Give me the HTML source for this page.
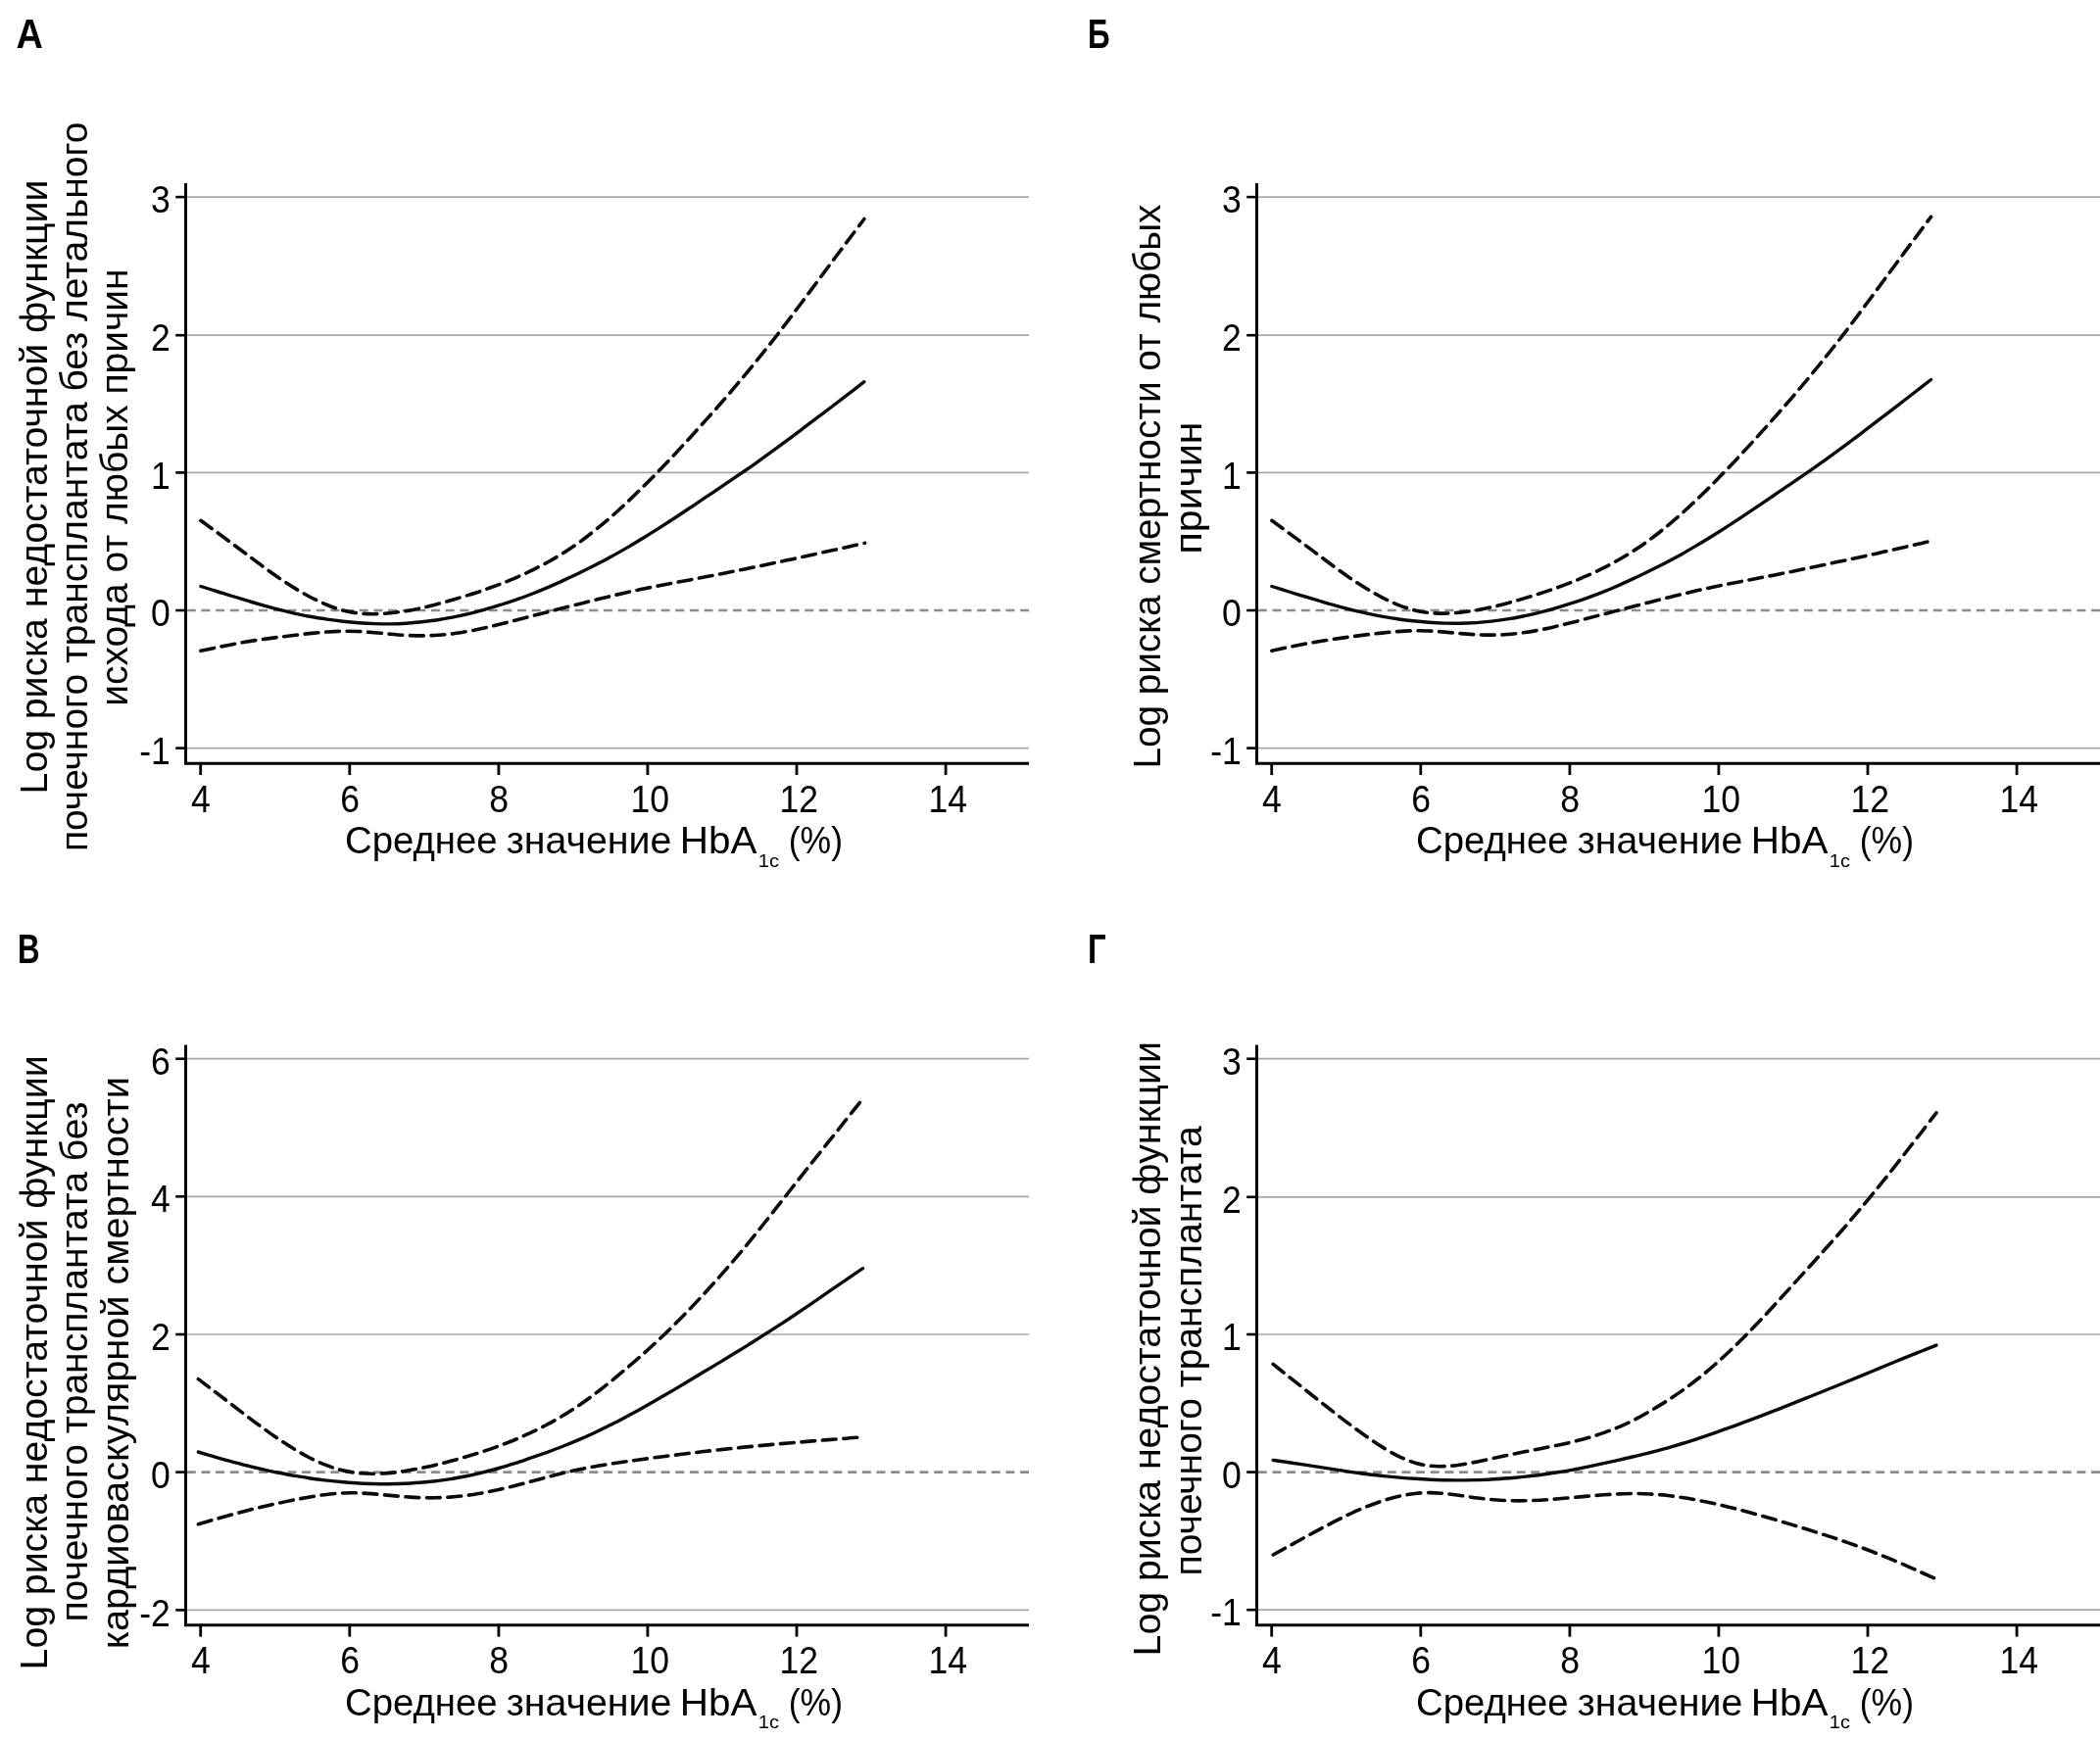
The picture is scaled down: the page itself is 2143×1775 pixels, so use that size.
<!DOCTYPE html>
<html lang="ru"><head><meta charset="utf-8"><title>HbA1c</title>
<style>html,body{margin:0;padding:0;background:#fff}body{width:2143px;height:1775px;overflow:hidden}svg{display:block;will-change:transform}text{font-family:'Liberation Sans', sans-serif;fill:#000}</style>
</head><body>
<svg width="2143" height="1775" viewBox="0 0 2143 1775">
<rect width="2143" height="1775" fill="#fff"/>
<g transform="translate(0 0)">
<line x1="191" y1="201.1" x2="1050" y2="201.1" stroke="#a8a8a8" stroke-width="1.7"/>
<line x1="191" y1="342.2" x2="1050" y2="342.2" stroke="#a8a8a8" stroke-width="1.7"/>
<line x1="191" y1="482.4" x2="1050" y2="482.4" stroke="#a8a8a8" stroke-width="1.7"/>
<line x1="190.8" y1="623" x2="1050" y2="623" stroke="#8c8c8c" stroke-width="2.7" stroke-dasharray="9 5.66"/>
<line x1="191" y1="763.6" x2="1050" y2="763.6" stroke="#a8a8a8" stroke-width="1.7"/>
<path d="M204.9 598.5C207.6 599.4 215.6 601.9 221 603.5C226.4 605.2 231.8 606.8 237.1 608.5C242.5 610.1 247.9 611.8 253.3 613.4C258.6 615 264 616.6 269.4 618.1C274.7 619.6 280.1 621.1 285.5 622.4C290.9 623.8 296.2 625.1 301.6 626.3C307 627.4 312.4 628.5 317.7 629.5C323.1 630.5 328.5 631.3 333.9 632.1C339.2 632.9 344.6 633.6 350 634.2C355.3 634.8 360.7 635.3 366.1 635.7C371.5 636.1 376.8 636.4 382.2 636.6C387.6 636.8 393 636.9 398.3 636.9C403.7 636.8 409.1 636.6 414.4 636.2C419.8 635.9 425.2 635.4 430.6 634.8C435.9 634.2 441.3 633.5 446.7 632.7C452.1 631.9 457.4 630.9 462.8 629.9C468.2 628.8 473.6 627.6 478.9 626.3C484.3 625 489.7 623.6 495 622.1C500.4 620.6 505.8 618.9 511.2 617.2C516.5 615.5 521.9 613.8 527.3 611.9C532.7 610 538 608.1 543.4 606C548.8 603.9 554.1 601.7 559.5 599.4C564.9 597.1 570.3 594.6 575.6 592.1C581 589.6 586.4 587.1 591.8 584.5C597.1 581.9 602.5 579.3 607.9 576.6C613.2 573.8 618.6 571 624 568C629.4 565.1 634.7 562 640.1 558.9C645.5 555.7 650.9 552.5 656.2 549.2C661.6 545.9 667 542.5 672.4 539.1C677.7 535.7 683.1 532.2 688.5 528.7C693.8 525.2 699.2 521.6 704.6 518C710 514.5 715.3 510.8 720.7 507.2C726.1 503.6 731.5 500 736.8 496.3C742.2 492.7 747.6 489.1 752.9 485.4C758.3 481.8 763.7 478.1 769.1 474.3C774.4 470.5 779.8 466.6 785.2 462.7C790.6 458.8 795.9 454.9 801.3 450.9C806.7 446.9 812.1 442.9 817.4 438.8C822.8 434.8 828.2 430.8 833.5 426.7C838.9 422.6 844.3 418.6 849.7 414.5C855 410.4 860.4 406.2 865.8 402.1C871.2 398 879.2 391.8 881.9 389.7" fill="none" stroke="#0a0a0a" stroke-width="3.4" stroke-linecap="round"/>
<path d="M204.9 531.3C207.6 533.3 215.6 539.2 221 543.1C226.4 547 231.8 551 237.1 555C242.5 558.9 247.9 563 253.3 567C258.6 571 264 575.1 269.4 579C274.7 582.9 280.1 586.8 285.5 590.4C290.9 594.1 296.2 597.6 301.6 600.9C307 604.1 312.4 607.2 317.7 610C323.1 612.7 328.5 615.3 333.9 617.5C339.2 619.7 344.6 621.6 350 623C355.3 624.4 360.7 625.3 366.1 626C371.5 626.6 376.8 626.7 382.2 626.7C387.6 626.6 393 626.2 398.3 625.7C403.7 625.2 409.1 624.4 414.4 623.6C419.8 622.7 425.2 621.6 430.6 620.5C435.9 619.3 441.3 617.9 446.7 616.5C452.1 615.1 457.4 613.5 462.8 612C468.2 610.4 473.6 608.8 478.9 607.1C484.3 605.4 489.7 603.7 495 601.8C500.4 599.9 505.8 598 511.2 595.9C516.5 593.8 521.9 591.6 527.3 589.3C532.7 586.9 538 584.5 543.4 581.8C548.8 579.2 554.1 576.5 559.5 573.5C564.9 570.5 570.3 567.4 575.6 564C581 560.6 586.4 556.9 591.8 553.1C597.1 549.2 602.5 545 607.9 540.7C613.2 536.4 618.6 531.9 624 527.2C629.4 522.5 634.7 517.6 640.1 512.5C645.5 507.5 650.9 502.2 656.2 496.9C661.6 491.6 667 486.2 672.4 480.6C677.7 475.1 683.1 469.4 688.5 463.7C693.8 457.9 699.2 452.1 704.6 446.2C710 440.3 715.3 434.4 720.7 428.4C726.1 422.4 731.5 416.3 736.8 410.2C742.2 404 747.6 397.8 752.9 391.4C758.3 385.1 763.7 378.6 769.1 372C774.4 365.4 779.8 358.7 785.2 351.9C790.6 345.1 795.9 338.2 801.3 331.1C806.7 324.1 812.1 316.9 817.4 309.7C822.8 302.5 828.2 295.3 833.5 288.1C838.9 280.8 844.3 273.6 849.7 266.4C855 259.2 860.4 252.1 865.8 244.9C871.2 237.8 879.2 227.1 881.9 223.5" fill="none" stroke="#0a0a0a" stroke-width="3.6" stroke-dasharray="13.8 7.73" stroke-linecap="round"/>
<path d="M204.9 664.3C207.6 663.7 215.7 662 221 660.9C226.4 659.8 231.8 658.7 237.2 657.7C242.6 656.6 247.9 655.7 253.3 654.8C258.7 653.9 264.1 653.2 269.4 652.4C274.8 651.6 280.2 650.9 285.6 650.2C291 649.5 296.3 648.9 301.7 648.2C307.1 647.6 312.5 647 317.9 646.4C323.2 645.9 328.6 645.4 334 645C339.4 644.6 344.7 644.3 350.1 644.3C355.5 644.2 360.9 644.3 366.3 644.5C371.6 644.8 377 645.2 382.4 645.7C387.8 646.1 393.2 646.8 398.5 647.2C403.9 647.7 409.3 648.2 414.7 648.4C420 648.7 425.4 648.9 430.8 648.9C436.2 648.8 441.6 648.7 446.9 648.3C452.3 647.9 457.7 647.4 463.1 646.7C468.4 646 473.8 645 479.2 644.1C484.6 643.1 490 641.9 495.3 640.7C500.7 639.5 506.1 638.2 511.5 636.8C516.9 635.5 522.2 634.1 527.6 632.7C533 631.3 538.4 629.9 543.8 628.5C549.1 627.1 554.5 625.8 559.9 624.4C565.3 623 570.6 621.7 576 620.3C581.4 618.9 586.8 617.5 592.2 616.2C597.5 614.8 602.9 613.4 608.3 612.1C613.7 610.8 619.1 609.4 624.4 608.2C629.8 606.9 635.2 605.7 640.6 604.5C645.9 603.3 651.3 602.1 656.7 601C662.1 599.9 667.5 598.8 672.8 597.8C678.2 596.7 683.6 595.7 689 594.7C694.3 593.7 699.7 592.7 705.1 591.7C710.5 590.6 715.9 589.6 721.2 588.6C726.6 587.5 732 586.5 737.4 585.4C742.8 584.3 748.1 583.3 753.5 582.2C758.9 581.1 764.3 580 769.6 578.9C775 577.8 780.4 576.7 785.8 575.5C791.2 574.4 796.5 573.3 801.9 572.1C807.3 571 812.7 569.8 818.1 568.7C823.4 567.5 828.8 566.3 834.2 565.1C839.6 563.9 845 562.7 850.3 561.6C855.7 560.4 861.1 559.1 866.5 557.9C871.8 556.7 879.9 554.9 882.6 554.3" fill="none" stroke="#0a0a0a" stroke-width="3.6" stroke-dasharray="13.8 7.73" stroke-linecap="round"/>
<path d="M189.5 187 V779.25 H1050" fill="none" stroke="#000" stroke-width="3"/>
<line x1="179.2" y1="201.1" x2="189" y2="201.1" stroke="#000" stroke-width="2.6"/>
<text x="154" y="217.3" font-size="39.5" textLength="19.8" lengthAdjust="spacingAndGlyphs">3</text>
<line x1="179.2" y1="342.2" x2="189" y2="342.2" stroke="#000" stroke-width="2.6"/>
<text x="154" y="358.4" font-size="39.5" textLength="19.8" lengthAdjust="spacingAndGlyphs">2</text>
<line x1="179.2" y1="482.4" x2="189" y2="482.4" stroke="#000" stroke-width="2.6"/>
<text x="154" y="498.6" font-size="39.5" textLength="19.8" lengthAdjust="spacingAndGlyphs">1</text>
<line x1="179.2" y1="623" x2="189" y2="623" stroke="#000" stroke-width="2.6"/>
<text x="154" y="639.2" font-size="39.5" textLength="19.8" lengthAdjust="spacingAndGlyphs">0</text>
<line x1="179.2" y1="763.6" x2="189" y2="763.6" stroke="#000" stroke-width="2.6"/>
<text x="142.2" y="779.8" font-size="39.5" textLength="31.6" lengthAdjust="spacingAndGlyphs">-1</text>
<line x1="204.7" y1="780" x2="204.7" y2="791" stroke="#000" stroke-width="2.8"/>
<text x="195.1" y="828.6" font-size="39.5" textLength="19.8" lengthAdjust="spacingAndGlyphs">4</text>
<line x1="356.8" y1="780" x2="356.8" y2="791" stroke="#000" stroke-width="2.8"/>
<text x="347.2" y="828.6" font-size="39.5" textLength="19.8" lengthAdjust="spacingAndGlyphs">6</text>
<line x1="508.9" y1="780" x2="508.9" y2="791" stroke="#000" stroke-width="2.8"/>
<text x="499.3" y="828.6" font-size="39.5" textLength="19.8" lengthAdjust="spacingAndGlyphs">8</text>
<line x1="660.9" y1="780" x2="660.9" y2="791" stroke="#000" stroke-width="2.8"/>
<text x="643.4" y="828.6" font-size="39.5" textLength="39.5" lengthAdjust="spacingAndGlyphs">10</text>
<line x1="813" y1="780" x2="813" y2="791" stroke="#000" stroke-width="2.8"/>
<text x="795.5" y="828.6" font-size="39.5" textLength="39.5" lengthAdjust="spacingAndGlyphs">12</text>
<line x1="965.1" y1="780" x2="965.1" y2="791" stroke="#000" stroke-width="2.8"/>
<text x="947.5" y="828.6" font-size="39.5" textLength="39.5" lengthAdjust="spacingAndGlyphs">14</text>
<text x="352" y="871" font-size="39" textLength="155.6" lengthAdjust="spacingAndGlyphs">Среднее</text>
<text x="516.8" y="871" font-size="39" textLength="168.6" lengthAdjust="spacingAndGlyphs">значение</text>
<text x="693.8" y="871" font-size="39" textLength="78.8" lengthAdjust="spacingAndGlyphs">HbA</text>
<text x="773.8" y="884.6" font-size="18" textLength="21.2" lengthAdjust="spacingAndGlyphs">1c</text>
<text x="804.8" y="871" font-size="39" textLength="55.2" lengthAdjust="spacingAndGlyphs">(%)</text>
<text font-size="39" textLength="626.7" lengthAdjust="spacingAndGlyphs" transform="translate(48.1 810.4) rotate(-90)">Log риска недостаточной функции</text>
<text font-size="39" textLength="744.6" lengthAdjust="spacingAndGlyphs" transform="translate(88.8 869.1) rotate(-90)">почечного трансплантата без летального</text>
<text font-size="39" textLength="446.2" lengthAdjust="spacingAndGlyphs" transform="translate(130.3 720.7) rotate(-90)">исхода от любых причин</text>
<text x="16.6" y="48.8" font-size="42" textLength="27.4" lengthAdjust="spacingAndGlyphs" font-weight="bold">А</text>
</g>
<g transform="translate(1093 0)">
<line x1="191" y1="201.1" x2="1051" y2="201.1" stroke="#a8a8a8" stroke-width="1.7"/>
<line x1="191" y1="342.2" x2="1051" y2="342.2" stroke="#a8a8a8" stroke-width="1.7"/>
<line x1="191" y1="482.4" x2="1051" y2="482.4" stroke="#a8a8a8" stroke-width="1.7"/>
<line x1="190.8" y1="623" x2="1051" y2="623" stroke="#8c8c8c" stroke-width="2.7" stroke-dasharray="9 5.66"/>
<line x1="191" y1="763.6" x2="1051" y2="763.6" stroke="#a8a8a8" stroke-width="1.7"/>
<path d="M204.9 598.5C207.6 599.3 215.6 601.8 220.9 603.5C226.3 605.1 231.6 606.8 236.9 608.4C242.3 610 247.6 611.6 252.9 613.2C258.3 614.8 263.6 616.4 269 617.9C274.3 619.4 279.6 620.8 285 622.2C290.3 623.5 295.6 624.8 301 625.9C306.3 627.1 311.7 628.2 317 629.1C322.3 630.1 327.7 630.9 333 631.7C338.4 632.5 343.7 633.1 349 633.7C354.4 634.3 359.7 634.8 365 635.2C370.4 635.6 375.7 635.9 381.1 636.1C386.4 636.2 391.7 636.3 397.1 636.2C402.4 636.1 407.7 635.9 413.1 635.6C418.4 635.2 423.8 634.7 429.1 634.1C434.4 633.5 439.8 632.8 445.1 631.9C450.5 631.1 455.8 630.1 461.1 629C466.5 628 471.8 626.7 477.1 625.4C482.5 624.1 487.8 622.7 493.2 621.1C498.5 619.6 503.8 618 509.2 616.2C514.5 614.5 519.8 612.7 525.2 610.8C530.5 609 535.9 607 541.2 604.9C546.5 602.8 551.9 600.6 557.2 598.2C562.6 595.9 567.9 593.4 573.2 590.9C578.6 588.4 583.9 585.8 589.2 583.2C594.6 580.6 599.9 578 605.3 575.3C610.6 572.5 615.9 569.6 621.3 566.7C626.6 563.7 631.9 560.6 637.3 557.4C642.6 554.3 648 551 653.3 547.7C658.6 544.4 664 541 669.3 537.6C674.7 534.2 680 530.7 685.3 527.1C690.7 523.6 696 520 701.3 516.4C706.7 512.8 712 509.2 717.4 505.5C722.7 501.9 728 498.2 733.4 494.6C738.7 491 744 487.4 749.4 483.7C754.7 480 760.1 476.2 765.4 472.4C770.7 468.6 776.1 464.8 781.4 460.9C786.8 456.9 792.1 453 797.4 449C802.8 445 808.1 440.9 813.4 436.9C818.8 432.8 824.1 428.7 829.5 424.7C834.8 420.6 840.1 416.5 845.5 412.4C850.8 408.2 856.1 404.1 861.5 400C866.8 395.8 874.8 389.6 877.5 387.5" fill="none" stroke="#0a0a0a" stroke-width="3.4" stroke-linecap="round"/>
<path d="M204.9 531.3C207.6 533.3 215.6 539.1 220.9 543.1C226.3 547 231.6 550.9 236.9 554.9C242.3 558.8 247.6 562.8 252.9 566.8C258.3 570.8 263.6 574.9 269 578.8C274.3 582.7 279.6 586.6 285 590.2C290.3 593.8 295.6 597.3 301 600.5C306.3 603.8 311.7 606.8 317 609.6C322.3 612.3 327.7 614.9 333 617.1C338.4 619.2 343.7 621.1 349 622.5C354.4 623.9 359.7 624.8 365 625.4C370.4 626 375.7 626.1 381.1 626.1C386.4 626 391.7 625.6 397.1 625.1C402.4 624.5 407.7 623.8 413.1 622.9C418.4 622 423.8 620.9 429.1 619.7C434.4 618.5 439.8 617.1 445.1 615.7C450.5 614.3 455.8 612.7 461.1 611.1C466.5 609.5 471.8 607.9 477.1 606.2C482.5 604.5 487.8 602.7 493.2 600.8C498.5 599 503.8 597 509.2 594.9C514.5 592.8 519.8 590.6 525.2 588.2C530.5 585.9 535.9 583.4 541.2 580.7C546.5 578.1 551.9 575.3 557.2 572.3C562.6 569.3 567.9 566.2 573.2 562.7C578.6 559.3 583.9 555.7 589.2 551.8C594.6 547.9 599.9 543.8 605.3 539.4C610.6 535.1 615.9 530.6 621.3 525.8C626.6 521.1 631.9 516.2 637.3 511.1C642.6 506 648 500.8 653.3 495.5C658.6 490.1 664 484.7 669.3 479.1C674.7 473.6 680 467.9 685.3 462.1C690.7 456.4 696 450.5 701.3 444.6C706.7 438.7 712 432.7 717.4 426.7C722.7 420.7 728 414.6 733.4 408.5C738.7 402.3 744 396 749.4 389.7C754.7 383.3 760.1 376.8 765.4 370.2C770.7 363.6 776.1 356.9 781.4 350C786.8 343.2 792.1 336.2 797.4 329.2C802.8 322.1 808.1 314.9 813.4 307.7C818.8 300.5 824.1 293.3 829.5 286C834.8 278.8 840.1 271.5 845.5 264.3C850.8 257.1 856.1 250 861.5 242.8C866.8 235.6 874.8 224.9 877.5 221.3" fill="none" stroke="#0a0a0a" stroke-width="3.6" stroke-dasharray="13.8 7.73" stroke-linecap="round"/>
<path d="M204.9 664.3C207.6 663.7 215.6 661.9 220.9 660.8C226.3 659.7 231.6 658.6 237 657.6C242.3 656.5 247.6 655.6 253 654.7C258.3 653.8 263.7 653 269 652.2C274.4 651.4 279.7 650.7 285.1 650C290.4 649.3 295.7 648.6 301.1 647.9C306.4 647.3 311.8 646.6 317.1 646.1C322.5 645.5 327.8 645 333.1 644.6C338.5 644.2 343.8 643.9 349.2 643.8C354.5 643.7 359.9 643.8 365.2 644C370.6 644.2 375.9 644.7 381.2 645.1C386.6 645.6 391.9 646.2 397.3 646.6C402.6 647 408 647.5 413.3 647.7C418.6 648 424 648.2 429.3 648.1C434.7 648.1 440 647.9 445.4 647.5C450.7 647.1 456 646.5 461.4 645.8C466.7 645.1 472.1 644.2 477.4 643.2C482.8 642.1 488.1 641 493.5 639.7C498.8 638.5 504.1 637.2 509.5 635.8C514.8 634.5 520.2 633 525.5 631.6C530.9 630.2 536.2 628.8 541.5 627.4C546.9 626 552.2 624.6 557.6 623.3C562.9 621.9 568.3 620.5 573.6 619.1C579 617.7 584.3 616.3 589.6 614.9C595 613.5 600.3 612.1 605.7 610.8C611 609.4 616.4 608.1 621.7 606.8C627 605.5 632.4 604.3 637.7 603C643.1 601.8 648.4 600.7 653.8 599.5C659.1 598.4 664.5 597.3 669.8 596.3C675.1 595.2 680.5 594.2 685.8 593.1C691.2 592.1 696.5 591.1 701.9 590C707.2 589 712.5 588 717.9 586.9C723.2 585.8 728.6 584.8 733.9 583.7C739.3 582.6 744.6 581.5 749.9 580.4C755.3 579.3 760.6 578.2 766 577.1C771.3 575.9 776.7 574.8 782 573.6C787.4 572.5 792.7 571.4 798 570.2C803.4 569 808.7 567.9 814.1 566.7C819.4 565.5 824.8 564.3 830.1 563.1C835.4 561.9 840.8 560.7 846.1 559.5C851.5 558.2 856.8 557 862.2 555.8C867.5 554.6 875.5 552.7 878.2 552.1" fill="none" stroke="#0a0a0a" stroke-width="3.6" stroke-dasharray="13.8 7.73" stroke-linecap="round"/>
<path d="M189.5 187 V779.25 H1051" fill="none" stroke="#000" stroke-width="3"/>
<line x1="179.2" y1="201.1" x2="189" y2="201.1" stroke="#000" stroke-width="2.6"/>
<text x="154" y="217.3" font-size="39.5" textLength="19.8" lengthAdjust="spacingAndGlyphs">3</text>
<line x1="179.2" y1="342.2" x2="189" y2="342.2" stroke="#000" stroke-width="2.6"/>
<text x="154" y="358.4" font-size="39.5" textLength="19.8" lengthAdjust="spacingAndGlyphs">2</text>
<line x1="179.2" y1="482.4" x2="189" y2="482.4" stroke="#000" stroke-width="2.6"/>
<text x="154" y="498.6" font-size="39.5" textLength="19.8" lengthAdjust="spacingAndGlyphs">1</text>
<line x1="179.2" y1="623" x2="189" y2="623" stroke="#000" stroke-width="2.6"/>
<text x="154" y="639.2" font-size="39.5" textLength="19.8" lengthAdjust="spacingAndGlyphs">0</text>
<line x1="179.2" y1="763.6" x2="189" y2="763.6" stroke="#000" stroke-width="2.6"/>
<text x="142.2" y="779.8" font-size="39.5" textLength="31.6" lengthAdjust="spacingAndGlyphs">-1</text>
<line x1="204.7" y1="780" x2="204.7" y2="791" stroke="#000" stroke-width="2.8"/>
<text x="195.1" y="828.6" font-size="39.5" textLength="19.8" lengthAdjust="spacingAndGlyphs">4</text>
<line x1="356.8" y1="780" x2="356.8" y2="791" stroke="#000" stroke-width="2.8"/>
<text x="347.2" y="828.6" font-size="39.5" textLength="19.8" lengthAdjust="spacingAndGlyphs">6</text>
<line x1="508.9" y1="780" x2="508.9" y2="791" stroke="#000" stroke-width="2.8"/>
<text x="499.3" y="828.6" font-size="39.5" textLength="19.8" lengthAdjust="spacingAndGlyphs">8</text>
<line x1="660.9" y1="780" x2="660.9" y2="791" stroke="#000" stroke-width="2.8"/>
<text x="643.4" y="828.6" font-size="39.5" textLength="39.5" lengthAdjust="spacingAndGlyphs">10</text>
<line x1="813" y1="780" x2="813" y2="791" stroke="#000" stroke-width="2.8"/>
<text x="795.5" y="828.6" font-size="39.5" textLength="39.5" lengthAdjust="spacingAndGlyphs">12</text>
<line x1="965.1" y1="780" x2="965.1" y2="791" stroke="#000" stroke-width="2.8"/>
<text x="947.5" y="828.6" font-size="39.5" textLength="39.5" lengthAdjust="spacingAndGlyphs">14</text>
<text x="352" y="871" font-size="39" textLength="155.6" lengthAdjust="spacingAndGlyphs">Среднее</text>
<text x="516.8" y="871" font-size="39" textLength="168.6" lengthAdjust="spacingAndGlyphs">значение</text>
<text x="693.8" y="871" font-size="39" textLength="78.8" lengthAdjust="spacingAndGlyphs">HbA</text>
<text x="773.8" y="884.6" font-size="18" textLength="21.2" lengthAdjust="spacingAndGlyphs">1c</text>
<text x="804.8" y="871" font-size="39" textLength="55.2" lengthAdjust="spacingAndGlyphs">(%)</text>
<text font-size="39" textLength="575.9" lengthAdjust="spacingAndGlyphs" transform="translate(91.1 784.6) rotate(-90)">Log риска смертности от любых</text>
<text font-size="39" textLength="134.9" lengthAdjust="spacingAndGlyphs" transform="translate(133.2 565.4) rotate(-90)">причин</text>
<text x="17" y="48.8" font-size="42" textLength="22.6" lengthAdjust="spacingAndGlyphs" font-weight="bold">Б</text>
</g>
<g transform="translate(0 879.6)">
<line x1="191" y1="201.1" x2="1050" y2="201.1" stroke="#a8a8a8" stroke-width="1.7"/>
<line x1="191" y1="341.7" x2="1050" y2="341.7" stroke="#a8a8a8" stroke-width="1.7"/>
<line x1="191" y1="482.4" x2="1050" y2="482.4" stroke="#a8a8a8" stroke-width="1.7"/>
<line x1="190.8" y1="623" x2="1050" y2="623" stroke="#8c8c8c" stroke-width="2.7" stroke-dasharray="9 5.66"/>
<line x1="191" y1="763.8" x2="1050" y2="763.8" stroke="#a8a8a8" stroke-width="1.7"/>
<path d="M202.4 602.4C205.1 603.2 213.2 605.7 218.5 607.2C223.9 608.8 229.3 610.4 234.7 611.8C240.1 613.3 245.5 614.7 250.8 616.1C256.2 617.4 261.6 618.7 267 619.9C272.4 621.1 277.7 622.3 283.1 623.4C288.5 624.5 293.9 625.5 299.3 626.5C304.7 627.4 310 628.3 315.4 629.1C320.8 629.9 326.2 630.6 331.6 631.3C336.9 631.9 342.3 632.5 347.7 632.9C353.1 633.4 358.5 633.8 363.9 634.1C369.2 634.5 374.6 634.7 380 634.9C385.4 635 390.8 635.1 396.1 635.1C401.5 635 406.9 634.9 412.3 634.7C417.7 634.5 423.1 634.1 428.4 633.7C433.8 633.3 439.2 632.8 444.6 632.1C450 631.5 455.3 630.7 460.7 629.9C466.1 629 471.5 628 476.9 626.9C482.3 625.8 487.6 624.6 493 623.3C498.4 621.9 503.8 620.5 509.2 618.9C514.5 617.4 519.9 615.7 525.3 614C530.7 612.3 536.1 610.4 541.5 608.6C546.8 606.8 552.2 604.9 557.6 603C563 601 568.4 599 573.7 596.9C579.1 594.8 584.5 592.6 589.9 590.3C595.3 588 600.6 585.6 606 583.1C611.4 580.6 616.8 577.9 622.2 575.2C627.6 572.5 632.9 569.7 638.3 566.9C643.7 564 649.1 561.1 654.5 558.1C659.8 555.1 665.2 552 670.6 548.9C676 545.8 681.4 542.6 686.8 539.5C692.1 536.3 697.5 533.1 702.9 529.9C708.3 526.7 713.7 523.5 719 520.2C724.4 517 729.8 513.8 735.2 510.5C740.6 507.2 746 503.9 751.3 500.6C756.7 497.3 762.1 494 767.5 490.6C772.9 487.2 778.2 483.8 783.6 480.4C789 477 794.4 473.5 799.8 470C805.2 466.4 810.5 462.9 815.9 459.3C821.3 455.6 826.7 451.9 832.1 448.2C837.4 444.5 842.8 440.8 848.2 437.1C853.6 433.4 859 429.7 864.4 426C869.7 422.3 877.8 416.8 880.5 415" fill="none" stroke="#0a0a0a" stroke-width="3.4" stroke-linecap="round"/>
<path d="M202.4 528C205.1 530.1 213.1 536.2 218.5 540.3C223.9 544.4 229.2 548.5 234.6 552.6C240 556.7 245.3 560.9 250.7 564.9C256.1 569 261.4 573 266.8 576.9C272.2 580.8 277.5 584.7 282.9 588.3C288.3 591.9 293.6 595.5 299 598.7C304.4 602 309.7 605.1 315.1 607.9C320.4 610.6 325.8 613.2 331.2 615.3C336.5 617.4 341.9 619.3 347.3 620.7C352.6 622.1 358 623 363.4 623.7C368.7 624.4 374.1 624.6 379.5 624.7C384.8 624.7 390.2 624.4 395.6 624C400.9 623.6 406.3 622.9 411.7 622.1C417 621.3 422.4 620.4 427.8 619.3C433.1 618.2 438.5 617.1 443.9 615.8C449.2 614.5 454.6 613.2 460 611.7C465.3 610.3 470.7 608.8 476.1 607.2C481.4 605.6 486.8 604 492.2 602.2C497.5 600.5 502.9 598.6 508.3 596.6C513.6 594.7 519 592.6 524.4 590.4C529.7 588.1 535.1 585.8 540.5 583.3C545.8 580.8 551.2 578.2 556.5 575.4C561.9 572.5 567.3 569.6 572.6 566.4C578 563.2 583.4 559.8 588.7 556.2C594.1 552.6 599.5 548.7 604.8 544.8C610.2 540.8 615.6 536.6 620.9 532.3C626.3 528.1 631.7 523.7 637 519.1C642.4 514.6 647.8 510 653.1 505.3C658.5 500.5 663.9 495.7 669.2 490.7C674.6 485.7 680 480.6 685.3 475.3C690.7 470 696.1 464.6 701.4 459.1C706.8 453.5 712.2 447.8 717.5 442C722.9 436.2 728.3 430.3 733.6 424.3C739 418.2 744.4 412.1 749.7 405.8C755.1 399.5 760.5 393.1 765.8 386.5C771.2 380 776.5 373.2 781.9 366.4C787.3 359.7 792.6 352.8 798 346C803.4 339.1 808.7 332.2 814.1 325.4C819.5 318.6 824.8 311.8 830.2 305.1C835.6 298.3 840.9 291.6 846.3 284.8C851.7 278.1 857 271.4 862.4 264.6C867.8 257.9 875.8 247.8 878.5 244.4" fill="none" stroke="#0a0a0a" stroke-width="3.6" stroke-dasharray="13.8 7.73" stroke-linecap="round"/>
<path d="M202.4 676.1C205.1 675.3 213.1 673 218.5 671.5C223.8 670 229.2 668.5 234.5 667C239.9 665.5 245.2 664.1 250.6 662.7C255.9 661.3 261.3 660 266.6 658.7C272 657.4 277.3 656.2 282.7 655C288.1 653.8 293.4 652.6 298.8 651.6C304.1 650.5 309.5 649.5 314.8 648.6C320.2 647.6 325.5 646.8 330.9 646.1C336.2 645.4 341.6 644.8 346.9 644.5C352.3 644.2 357.6 644.1 363 644.2C368.3 644.3 373.7 644.6 379.1 645C384.4 645.4 389.8 646 395.1 646.5C400.5 647 405.8 647.5 411.2 648C416.5 648.4 421.9 648.7 427.2 649C432.6 649.2 437.9 649.3 443.3 649.2C448.6 649.1 454 648.9 459.4 648.5C464.7 648.1 470.1 647.6 475.4 646.9C480.8 646.2 486.1 645.3 491.5 644.4C496.8 643.4 502.2 642.3 507.5 641.2C512.9 640 518.2 638.7 523.6 637.3C528.9 636 534.3 634.6 539.6 633.1C545 631.7 550.4 630.2 555.7 628.8C561.1 627.4 566.4 625.9 571.8 624.6C577.1 623.3 582.5 622.1 587.8 621C593.2 619.8 598.5 618.8 603.9 617.8C609.2 616.8 614.6 615.9 619.9 615C625.3 614.2 630.7 613.4 636 612.6C641.4 611.8 646.7 611.1 652.1 610.4C657.4 609.7 662.8 609 668.1 608.2C673.5 607.5 678.8 606.8 684.2 606.2C689.5 605.5 694.9 604.8 700.2 604.1C705.6 603.5 711 602.8 716.3 602.2C721.7 601.6 727 601 732.4 600.4C737.7 599.8 743.1 599.2 748.4 598.6C753.8 598.1 759.1 597.5 764.5 597C769.8 596.5 775.2 596 780.5 595.5C785.9 595 791.2 594.5 796.6 594C802 593.6 807.3 593.1 812.7 592.7C818 592.2 823.4 591.8 828.7 591.3C834.1 590.9 839.4 590.5 844.8 590C850.1 589.6 855.5 589.2 860.8 588.8C866.2 588.3 874.2 587.7 876.9 587.5" fill="none" stroke="#0a0a0a" stroke-width="3.6" stroke-dasharray="13.8 7.73" stroke-linecap="round"/>
<path d="M189.5 187 V779.25 H1050" fill="none" stroke="#000" stroke-width="3"/>
<line x1="179.2" y1="201.1" x2="189" y2="201.1" stroke="#000" stroke-width="2.6"/>
<text x="154" y="217.3" font-size="39.5" textLength="19.8" lengthAdjust="spacingAndGlyphs">6</text>
<line x1="179.2" y1="341.7" x2="189" y2="341.7" stroke="#000" stroke-width="2.6"/>
<text x="154" y="357.9" font-size="39.5" textLength="19.8" lengthAdjust="spacingAndGlyphs">4</text>
<line x1="179.2" y1="482.4" x2="189" y2="482.4" stroke="#000" stroke-width="2.6"/>
<text x="154" y="498.6" font-size="39.5" textLength="19.8" lengthAdjust="spacingAndGlyphs">2</text>
<line x1="179.2" y1="623" x2="189" y2="623" stroke="#000" stroke-width="2.6"/>
<text x="154" y="639.2" font-size="39.5" textLength="19.8" lengthAdjust="spacingAndGlyphs">0</text>
<line x1="179.2" y1="763.8" x2="189" y2="763.8" stroke="#000" stroke-width="2.6"/>
<text x="142.2" y="780" font-size="39.5" textLength="31.6" lengthAdjust="spacingAndGlyphs">-2</text>
<line x1="204.7" y1="780" x2="204.7" y2="791" stroke="#000" stroke-width="2.8"/>
<text x="195.1" y="828.6" font-size="39.5" textLength="19.8" lengthAdjust="spacingAndGlyphs">4</text>
<line x1="356.8" y1="780" x2="356.8" y2="791" stroke="#000" stroke-width="2.8"/>
<text x="347.2" y="828.6" font-size="39.5" textLength="19.8" lengthAdjust="spacingAndGlyphs">6</text>
<line x1="508.9" y1="780" x2="508.9" y2="791" stroke="#000" stroke-width="2.8"/>
<text x="499.3" y="828.6" font-size="39.5" textLength="19.8" lengthAdjust="spacingAndGlyphs">8</text>
<line x1="660.9" y1="780" x2="660.9" y2="791" stroke="#000" stroke-width="2.8"/>
<text x="643.4" y="828.6" font-size="39.5" textLength="39.5" lengthAdjust="spacingAndGlyphs">10</text>
<line x1="813" y1="780" x2="813" y2="791" stroke="#000" stroke-width="2.8"/>
<text x="795.5" y="828.6" font-size="39.5" textLength="39.5" lengthAdjust="spacingAndGlyphs">12</text>
<line x1="965.1" y1="780" x2="965.1" y2="791" stroke="#000" stroke-width="2.8"/>
<text x="947.5" y="828.6" font-size="39.5" textLength="39.5" lengthAdjust="spacingAndGlyphs">14</text>
<text x="352" y="871" font-size="39" textLength="155.6" lengthAdjust="spacingAndGlyphs">Среднее</text>
<text x="516.8" y="871" font-size="39" textLength="168.6" lengthAdjust="spacingAndGlyphs">значение</text>
<text x="693.8" y="871" font-size="39" textLength="78.8" lengthAdjust="spacingAndGlyphs">HbA</text>
<text x="773.8" y="884.6" font-size="18" textLength="21.2" lengthAdjust="spacingAndGlyphs">1c</text>
<text x="804.8" y="871" font-size="39" textLength="55.2" lengthAdjust="spacingAndGlyphs">(%)</text>
<text font-size="39" textLength="627" lengthAdjust="spacingAndGlyphs" transform="translate(48.2 824.8) rotate(-90)">Log риска недостаточной функции</text>
<text font-size="39" textLength="531.1" lengthAdjust="spacingAndGlyphs" transform="translate(89.1 776) rotate(-90)">почечного трансплантата без</text>
<text font-size="39" textLength="584.1" lengthAdjust="spacingAndGlyphs" transform="translate(131.1 803.6) rotate(-90)">кардиоваскулярной смертности</text>
<text x="18" y="103.2" font-size="42" textLength="22.6" lengthAdjust="spacingAndGlyphs" font-weight="bold">В</text>
</g>
<g transform="translate(1093 879.6)">
<line x1="191" y1="201.1" x2="1051" y2="201.1" stroke="#a8a8a8" stroke-width="1.7"/>
<line x1="191" y1="342.2" x2="1051" y2="342.2" stroke="#a8a8a8" stroke-width="1.7"/>
<line x1="191" y1="482.4" x2="1051" y2="482.4" stroke="#a8a8a8" stroke-width="1.7"/>
<line x1="190.8" y1="623" x2="1051" y2="623" stroke="#8c8c8c" stroke-width="2.7" stroke-dasharray="9 5.66"/>
<line x1="191" y1="763.6" x2="1051" y2="763.6" stroke="#a8a8a8" stroke-width="1.7"/>
<path d="M206.2 610.8C208.9 611.2 216.9 612.4 222.3 613.1C227.7 613.9 233.1 614.7 238.4 615.5C243.8 616.3 249.2 617.1 254.5 618C259.9 618.8 265.3 619.7 270.7 620.5C276 621.4 281.4 622.2 286.8 623C292.1 623.7 297.5 624.5 302.9 625.1C308.3 625.8 313.6 626.4 319 627C324.4 627.5 329.7 628 335.1 628.5C340.5 629 345.9 629.4 351.2 629.7C356.6 630.1 362 630.4 367.3 630.6C372.7 630.8 378.1 631 383.5 631.1C388.8 631.2 394.2 631.3 399.6 631.3C404.9 631.2 410.3 631.1 415.7 631C421.1 630.8 426.4 630.6 431.8 630.2C437.2 629.9 442.5 629.5 447.9 629.1C453.3 628.6 458.7 628.1 464 627.5C469.4 626.9 474.8 626.3 480.1 625.6C485.5 624.9 490.9 624.1 496.3 623.2C501.6 622.4 507 621.5 512.4 620.5C517.7 619.5 523.1 618.4 528.5 617.3C533.9 616.1 539.2 614.9 544.6 613.7C550 612.6 555.3 611.4 560.7 610.2C566.1 608.9 571.5 607.7 576.8 606.5C582.2 605.2 587.6 603.9 592.9 602.5C598.3 601.1 603.7 599.7 609.1 598.2C614.4 596.6 619.8 595 625.2 593.4C630.5 591.7 635.9 590 641.3 588.2C646.7 586.4 652 584.6 657.4 582.7C662.8 580.8 668.1 578.9 673.5 577C678.9 575 684.3 573.1 689.6 571.1C695 569.1 700.4 567 705.7 565C711.1 562.9 716.5 560.8 721.9 558.7C727.2 556.6 732.6 554.5 738 552.3C743.3 550.2 748.7 548 754.1 545.9C759.5 543.7 764.8 541.6 770.2 539.4C775.6 537.2 780.9 535.1 786.3 532.9C791.7 530.7 797.1 528.5 802.4 526.3C807.8 524.1 813.2 521.8 818.5 519.6C823.9 517.4 829.3 515.1 834.7 512.9C840 510.7 845.4 508.5 850.8 506.3C856.1 504.2 861.5 502 866.9 499.9C872.3 497.8 880.3 494.6 883 493.5" fill="none" stroke="#0a0a0a" stroke-width="3.4" stroke-linecap="round"/>
<path d="M206.2 512.8C208.9 515 216.9 521.4 222.3 525.6C227.7 529.9 233.1 534.2 238.4 538.5C243.8 542.7 249.2 547 254.5 551.2C259.9 555.4 265.3 559.7 270.7 563.8C276 568 281.4 572.1 286.8 576.1C292.1 580.1 297.5 584 302.9 587.7C308.3 591.4 313.6 595 319 598.3C324.4 601.5 329.7 604.7 335.1 607.2C340.5 609.8 345.9 612 351.2 613.6C356.6 615.2 362 616.2 367.3 616.7C372.7 617.3 378.1 617.2 383.5 616.9C388.8 616.7 394.2 615.9 399.6 615.1C404.9 614.3 410.3 613.2 415.7 612.2C421.1 611.1 426.4 609.9 431.8 608.7C437.2 607.6 442.5 606.4 447.9 605.3C453.3 604.1 458.7 603 464 602C469.4 600.9 474.8 599.8 480.1 598.8C485.5 597.7 490.9 596.7 496.3 595.6C501.6 594.5 507 593.3 512.4 592C517.7 590.7 523.1 589.3 528.5 587.7C533.9 586.2 539.2 584.4 544.6 582.5C550 580.6 555.3 578.5 560.7 576.2C566.1 573.8 571.5 571.3 576.8 568.5C582.2 565.7 587.6 562.7 592.9 559.5C598.3 556.4 603.7 553.1 609.1 549.6C614.4 546.1 619.8 542.5 625.2 538.7C630.5 534.8 635.9 530.7 641.3 526.4C646.7 522.1 652 517.6 657.4 512.9C662.8 508.1 668.1 503.2 673.5 498.1C678.9 493 684.3 487.8 689.6 482.3C695 476.9 700.4 471.2 705.7 465.5C711.1 459.8 716.5 453.9 721.9 448C727.2 442.2 732.6 436.2 738 430.3C743.3 424.4 748.7 418.5 754.1 412.6C759.5 406.6 764.8 400.7 770.2 394.7C775.6 388.8 780.9 382.8 786.3 376.6C791.7 370.5 797.1 364.2 802.4 357.8C807.8 351.5 813.2 345 818.5 338.4C823.9 331.8 829.3 325.1 834.7 318.4C840 311.7 845.4 304.8 850.8 297.9C856.1 291.1 861.5 284.1 866.9 277.2C872.3 270.2 880.3 259.7 883 256.2" fill="none" stroke="#0a0a0a" stroke-width="3.6" stroke-dasharray="13.8 7.73" stroke-linecap="round"/>
<path d="M206.2 707.4C208.9 705.9 216.9 701.5 222.3 698.5C227.6 695.6 233 692.7 238.3 689.7C243.7 686.8 249 683.9 254.4 681C259.7 678.2 265.1 675.3 270.4 672.6C275.8 669.9 281.1 667.2 286.5 664.8C291.8 662.3 297.2 660 302.5 657.9C307.9 655.8 313.2 653.8 318.6 652.1C323.9 650.4 329.3 648.9 334.6 647.7C340 646.5 345.3 645.5 350.7 644.9C356 644.2 361.4 644 366.7 644C372.1 644.1 377.5 644.5 382.8 645C388.2 645.6 393.5 646.4 398.9 647.1C404.2 647.8 409.6 648.7 414.9 649.4C420.3 650.1 425.6 650.7 431 651.2C436.3 651.6 441.7 652 447 652.1C452.4 652.3 457.7 652.3 463.1 652.2C468.4 652.1 473.8 651.9 479.1 651.6C484.5 651.3 489.8 650.8 495.2 650.4C500.5 649.9 505.9 649.4 511.2 649C516.6 648.5 521.9 648 527.3 647.5C532.6 647.1 538 646.6 543.3 646.2C548.7 645.9 554.1 645.5 559.4 645.3C564.8 645.1 570.1 644.9 575.5 644.9C580.8 644.9 586.2 645.1 591.5 645.4C596.9 645.7 602.2 646.1 607.6 646.7C612.9 647.3 618.3 648.1 623.6 648.9C629 649.7 634.3 650.7 639.7 651.7C645 652.7 650.4 653.9 655.7 655C661.1 656.2 666.4 657.5 671.8 658.8C677.1 660.1 682.5 661.5 687.8 663C693.2 664.4 698.5 665.9 703.9 667.4C709.2 668.9 714.6 670.4 720 672C725.3 673.6 730.7 675.2 736 676.8C741.4 678.4 746.7 680 752.1 681.7C757.4 683.4 762.8 685.1 768.1 686.8C773.5 688.5 778.8 690.3 784.2 692.1C789.5 693.9 794.9 695.8 800.2 697.7C805.6 699.6 810.9 701.6 816.3 703.7C821.6 705.8 827 707.9 832.3 710.1C837.7 712.3 843 714.5 848.4 716.8C853.7 719.1 859.1 721.5 864.4 723.9C869.8 726.2 877.8 729.9 880.5 731.1" fill="none" stroke="#0a0a0a" stroke-width="3.6" stroke-dasharray="13.8 7.73" stroke-linecap="round"/>
<path d="M189.5 187 V779.25 H1051" fill="none" stroke="#000" stroke-width="3"/>
<line x1="179.2" y1="201.1" x2="189" y2="201.1" stroke="#000" stroke-width="2.6"/>
<text x="154" y="217.3" font-size="39.5" textLength="19.8" lengthAdjust="spacingAndGlyphs">3</text>
<line x1="179.2" y1="342.2" x2="189" y2="342.2" stroke="#000" stroke-width="2.6"/>
<text x="154" y="358.4" font-size="39.5" textLength="19.8" lengthAdjust="spacingAndGlyphs">2</text>
<line x1="179.2" y1="482.4" x2="189" y2="482.4" stroke="#000" stroke-width="2.6"/>
<text x="154" y="498.6" font-size="39.5" textLength="19.8" lengthAdjust="spacingAndGlyphs">1</text>
<line x1="179.2" y1="623" x2="189" y2="623" stroke="#000" stroke-width="2.6"/>
<text x="154" y="639.2" font-size="39.5" textLength="19.8" lengthAdjust="spacingAndGlyphs">0</text>
<line x1="179.2" y1="763.6" x2="189" y2="763.6" stroke="#000" stroke-width="2.6"/>
<text x="142.2" y="779.8" font-size="39.5" textLength="31.6" lengthAdjust="spacingAndGlyphs">-1</text>
<line x1="204.7" y1="780" x2="204.7" y2="791" stroke="#000" stroke-width="2.8"/>
<text x="195.1" y="828.6" font-size="39.5" textLength="19.8" lengthAdjust="spacingAndGlyphs">4</text>
<line x1="356.8" y1="780" x2="356.8" y2="791" stroke="#000" stroke-width="2.8"/>
<text x="347.2" y="828.6" font-size="39.5" textLength="19.8" lengthAdjust="spacingAndGlyphs">6</text>
<line x1="508.9" y1="780" x2="508.9" y2="791" stroke="#000" stroke-width="2.8"/>
<text x="499.3" y="828.6" font-size="39.5" textLength="19.8" lengthAdjust="spacingAndGlyphs">8</text>
<line x1="660.9" y1="780" x2="660.9" y2="791" stroke="#000" stroke-width="2.8"/>
<text x="643.4" y="828.6" font-size="39.5" textLength="39.5" lengthAdjust="spacingAndGlyphs">10</text>
<line x1="813" y1="780" x2="813" y2="791" stroke="#000" stroke-width="2.8"/>
<text x="795.5" y="828.6" font-size="39.5" textLength="39.5" lengthAdjust="spacingAndGlyphs">12</text>
<line x1="965.1" y1="780" x2="965.1" y2="791" stroke="#000" stroke-width="2.8"/>
<text x="947.5" y="828.6" font-size="39.5" textLength="39.5" lengthAdjust="spacingAndGlyphs">14</text>
<text x="352" y="871" font-size="39" textLength="155.6" lengthAdjust="spacingAndGlyphs">Среднее</text>
<text x="516.8" y="871" font-size="39" textLength="168.6" lengthAdjust="spacingAndGlyphs">значение</text>
<text x="693.8" y="871" font-size="39" textLength="78.8" lengthAdjust="spacingAndGlyphs">HbA</text>
<text x="773.8" y="884.6" font-size="18" textLength="21.2" lengthAdjust="spacingAndGlyphs">1c</text>
<text x="804.8" y="871" font-size="39" textLength="55.2" lengthAdjust="spacingAndGlyphs">(%)</text>
<text font-size="39" textLength="627.2" lengthAdjust="spacingAndGlyphs" transform="translate(91.1 810.8) rotate(-90)">Log риска недостаточной функции</text>
<text font-size="39" textLength="459" lengthAdjust="spacingAndGlyphs" transform="translate(133 728.8) rotate(-90)">почечного трансплантата</text>
<text x="17" y="103.2" font-size="42" textLength="18.6" lengthAdjust="spacingAndGlyphs" font-weight="bold">Г</text>
</g>
</svg></body></html>
